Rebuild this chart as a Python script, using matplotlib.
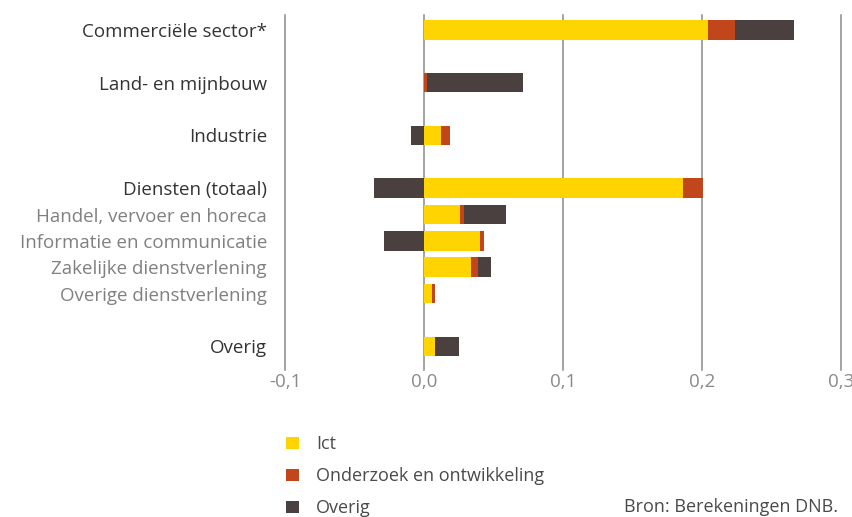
import numpy as np
import matplotlib
matplotlib.use('Agg')
import matplotlib.pyplot as plt

plt.rcParams['font.family'] = ['Open Sans', 'DejaVu Sans']

# Sector labels (top to bottom) and their positions on the category axis
sectors = ['Commerciële sector*', 'Land- en mijnbouw', 'Industrie',
           'Diensten (totaal)', 'Handel, vervoer en horeca',
           'Informatie en communicatie', 'Zakelijke dienstverlening',
           'Overige dienstverlening', 'Overig']
positions = [0, 2, 4, 6, 7, 8, 9, 10, 12]
is_sub = [False, False, False, False, True, True, True, True, False]

# Contributions per component
ict = [0.204, 0.0, 0.012, 0.186, 0.026, 0.040, 0.034, 0.006, 0.008]
onderzoek = [0.020, 0.002, 0.007, 0.015, 0.003, 0.003, 0.005, 0.002, 0.0]
overig = [0.042, 0.069, -0.009, -0.036, 0.030, -0.029, 0.0095, 0.0, 0.017]

series_names = ['Ict', 'Onderzoek en ontwikkeling', 'Overig']
colors = ['#FFD400', '#C1461B', '#4B4040']

fig = plt.figure(figsize=(8.53, 5.17), dpi=100)
ax = fig.add_axes([285 / 853, 1 - 370 / 517, 556 / 853, 355 / 517])

# stack positives on positives, negatives on negatives
pos_base = np.zeros(len(sectors))
neg_base = np.zeros(len(sectors))
handles = []
for vals, name, c in zip([ict, onderzoek, overig], series_names, colors):
    vals = np.array(vals)
    left = np.where(vals >= 0, pos_base, neg_base)
    h = ax.barh(positions, vals, left=left, height=0.74, color=c, label=name, zorder=3)
    handles.append(h)
    pos_base += np.clip(vals, 0, None)
    neg_base += np.clip(vals, None, 0)

ax.set_xlim(-0.1, 0.3)
ax.set_ylim(12.9, -0.57)
ax.set_xticks([-0.1, 0.0, 0.1, 0.2, 0.3])
ax.set_xticklabels(['-0,1', '0,0', '0,1', '0,2', '0,3'])
ax.xaxis.grid(True, color='#8a8a8a', linewidth=1.1, zorder=1)
for line in ax.get_xgridlines():
    line.set_clip_on(False)
for s in ax.spines.values():
    s.set_visible(False)
ax.tick_params(axis='x', length=0, labelsize=13.5, labelcolor='#8a8a8a', pad=2)

ax.set_yticks(positions)
ax.set_yticklabels(sectors)
ax.tick_params(axis='y', length=0, labelsize=13.5, pad=13)
for lab, sub in zip(ax.get_yticklabels(), is_sub):
    lab.set_color('#808080' if sub else '#333333')

leg = fig.legend(handles=handles, labels=series_names, loc='upper left',
                 bbox_to_anchor=(279 / 853, 1 - 428 / 517), frameon=False,
                 fontsize=13, handlelength=0.7, handleheight=0.7,
                 labelspacing=0.78, handletextpad=0.95, borderaxespad=0)
for t in leg.get_texts():
    t.set_color('#4a4a4a')

fig.text(838 / 853, 1 - 507 / 517, 'Bron: Berekeningen DNB.', ha='right', va='center',
         fontsize=13, color='#4a4a4a')

fig.savefig('out.png', dpi=100)
